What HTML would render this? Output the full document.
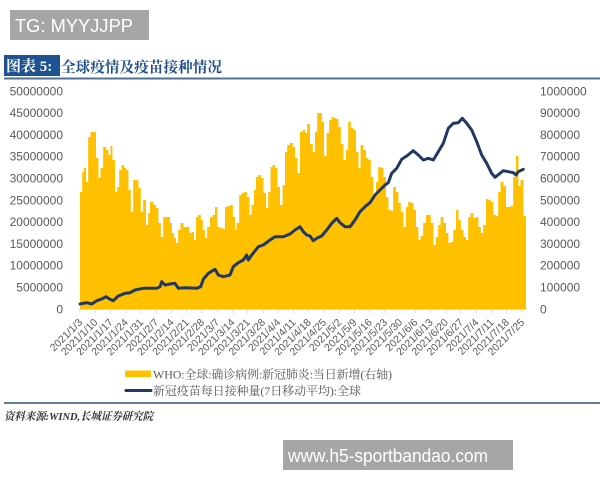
<!DOCTYPE html>
<html>
<head>
<meta charset="utf-8">
<style>
html,body{margin:0;padding:0;background:#fff;}
svg{display:block;}
</style>
</head>
<body>
<svg width="600" height="480" viewBox="0 0 600 480" xmlns="http://www.w3.org/2000/svg">
<defs>
<pattern id="sep" patternUnits="userSpaceOnUse" x="80" y="0" width="6.54" height="480">
<rect x="0" y="0" width="0.6" height="480" fill="#ffffff" fill-opacity="0.55"/>
</pattern>
</defs>
<rect width="600" height="480" fill="#fff"/>

<!-- top watermark -->
<rect x="10" y="10" width="139" height="30" fill="#a6a6a6"/>
<text x="15" y="32" font-family="Liberation Sans, sans-serif" font-size="18.5" fill="#fff" textLength="118" lengthAdjust="spacingAndGlyphs">TG: MYYJJPP</text>

<!-- title -->
<rect x="4" y="55" width="56" height="21" fill="#1f5291"/>
<text x="6" y="71" font-family="Liberation Serif, 'Noto Serif CJK SC', serif" font-size="15" font-weight="bold" fill="#fff">图表 5:</text>
<text x="61" y="72" font-family="Liberation Serif, 'Noto Serif CJK SC', serif" font-size="15" font-weight="bold" fill="#1f4e8c" textLength="161" lengthAdjust="spacingAndGlyphs">全球疫情及疫苗接种情况</text>
<line x1="4" y1="78.5" x2="600" y2="78.5" stroke="#4f7095" stroke-width="2"/>

<!-- bars -->
<path id="bars" fill="#FFC000" d="M80 309 V192 H82.3 V172 H84 V168 H86 V182 H88.3 V137 H90.7 V132 H93.3 V132 H96 V158 H98.3 V178 H100.7 V168 H103.3 V147 H106 V150 H108.3 V155 H110.7 V146 H112.3 V160 H115 V192 H117.3 V187 H119.3 V170 H121.7 V165 H124 V168 H126 V170 H128.3 V190 H130.7 V212 H133.3 V180 H136 V180 H138.3 V188 H140.7 V212 H143.3 V200 H146 V225 H148.3 V213 H150 V202 H153.3 V205 H156 V208 H158.3 V223 H160.7 V237 H163.3 V217 H166.7 V217 H170 V223 H171.7 V233 H174 V238 H176 V243 H178.3 V230 H180.7 V223 H183.3 V227 H186.7 V227 H189.3 V233 H191.7 V232 H194 V240 H196 V217 H198.3 V215 H200.7 V220 H202.7 V230 H205 V238 H207.3 V227 H210 V217 H212.7 V215 H215 V207 H217.3 V227 H220 V228 H222.7 V229 H225 V207 H227.3 V206 H230 V205 H232.7 V217 H235 V230 H236.7 V223 H239.3 V195 H241.7 V193 H244 V192 H246.7 V197 H249.3 V215 H251.7 V205 H254 V190 H256 V177 H258.3 V175 H260.7 V178 H263.3 V193 H266 V208 H268.3 V192 H270.7 V167 H272.7 V165 H275 V168 H277.3 V187 H280 V205 H282.7 V185 H285 V152 H287.3 V145 H290 V143 H292.7 V147 H295 V158 H297.3 V173 H300 V132 H302.7 V130 H305 V133 H307.3 V124 H310 V144 H312.7 V152 H315 V132 H317.3 V113 H319.3 V113 H321.7 V122 H324 V156 H326.7 V133 H329.3 V120 H331.7 V117 H334 V118 H336 V119 H338.3 V127 H340.7 V144 H343.3 V160 H346 V150 H348.3 V122 H350.7 V128 H353.3 V130 H356 V152 H358.3 V168 H360.7 V145 H363.3 V150 H366 V158 H368.3 V160 H370.7 V177 H373.3 V195 H376 V182 H378.3 V167 H380.7 V168 H383.3 V177 H386 V197 H388.3 V210 H390.7 V211 H393.3 V187 H396 V192 H398.3 V203 H400.7 V212 H403.3 V227 H406 V207 H408.3 V202 H410.7 V203 H413.3 V210 H416 V227 H418.3 V240 H420.7 V236 H423.3 V223 H426 V215 H428.3 V215 H430.7 V223 H433.3 V245 H436 V237 H438.3 V225 H440.7 V217 H443.3 V223 H446 V233 H448.3 V243 H450.7 V242 H453.3 V230 H456 V210 H458.3 V220 H460.7 V230 H463.3 V237 H466 V240 H468.3 V217 H470.7 V213 H473.3 V218 H476 V217 H478.3 V227 H480.7 V233 H483.3 V225 H486 V199 H488.3 V200 H490.7 V202 H493.3 V215 H496 V216 H498.3 V192 H500.7 V182 H503.3 V186 H506 V207 H508.3 V207 H510.7 V206 H513.3 V177 H516 V156 H518.3 V186 H520.7 V180 H523.3 V216 H526 V309 Z"/>
<use href="#bars" fill="url(#sep)"/>

<!-- x axis -->
<line x1="79" y1="309.5" x2="527" y2="309.5" stroke="#d9d9d9" stroke-width="1"/>
<g stroke="#d9d9d9" stroke-width="1">
<line x1="80" y1="309" x2="80" y2="313"/><line x1="95.24" y1="309" x2="95.24" y2="313"/><line x1="110.48" y1="309" x2="110.48" y2="313"/><line x1="125.72" y1="309" x2="125.72" y2="313"/><line x1="140.97" y1="309" x2="140.97" y2="313"/><line x1="156.21" y1="309" x2="156.21" y2="313"/><line x1="171.45" y1="309" x2="171.45" y2="313"/><line x1="186.69" y1="309" x2="186.69" y2="313"/><line x1="201.93" y1="309" x2="201.93" y2="313"/><line x1="217.17" y1="309" x2="217.17" y2="313"/><line x1="232.41" y1="309" x2="232.41" y2="313"/><line x1="247.66" y1="309" x2="247.66" y2="313"/><line x1="262.9" y1="309" x2="262.9" y2="313"/><line x1="278.14" y1="309" x2="278.14" y2="313"/><line x1="293.38" y1="309" x2="293.38" y2="313"/><line x1="308.62" y1="309" x2="308.62" y2="313"/><line x1="323.86" y1="309" x2="323.86" y2="313"/><line x1="339.1" y1="309" x2="339.1" y2="313"/><line x1="354.34" y1="309" x2="354.34" y2="313"/><line x1="369.59" y1="309" x2="369.59" y2="313"/><line x1="384.83" y1="309" x2="384.83" y2="313"/><line x1="400.07" y1="309" x2="400.07" y2="313"/><line x1="415.31" y1="309" x2="415.31" y2="313"/><line x1="430.55" y1="309" x2="430.55" y2="313"/><line x1="445.79" y1="309" x2="445.79" y2="313"/><line x1="461.03" y1="309" x2="461.03" y2="313"/><line x1="476.28" y1="309" x2="476.28" y2="313"/><line x1="491.52" y1="309" x2="491.52" y2="313"/><line x1="506.76" y1="309" x2="506.76" y2="313"/><line x1="522" y1="309" x2="522" y2="313"/>
</g>

<!-- line series -->
<path fill="none" stroke="#1f3864" stroke-width="3" stroke-linejoin="round" stroke-linecap="round" d="M80 304 L86.7 302.7 L91.7 304 L96.7 300.7 L101.7 299 L106 296.7 L110 299.3 L113.3 300.7 L118.3 296 L125 293.3 L130 292.7 L135 290 L143.3 288.3 L156.7 288.3 L160 286.7 L161.7 281.7 L165 285 L170 284 L175 283.3 L178.3 288.3 L185 287.7 L196.7 288.3 L200.7 286.7 L203.3 279.3 L208.3 273.3 L215 269.3 L218.3 275 L223.3 276.7 L230 275 L233.3 266.7 L238.3 262.7 L243.3 260 L246.7 255 L248.3 260 L251.7 255 L258.3 246.7 L263.3 245 L270 240 L275 236.7 L283.3 236.7 L290 234 L295 230 L300 226.7 L303.3 231.7 L306.7 235 L310 236 L313.3 240.7 L316.7 238.3 L321.7 236 L326.7 230 L331.7 223.3 L336.7 218.3 L340 222.7 L345 226.7 L350 226.7 L355 220 L360 211.7 L365 206.7 L370 202.7 L375 195 L380 190 L385 185 L388.3 182.7 L391.7 173.3 L396.7 168.3 L401.7 159.3 L406.7 156 L413.3 150.7 L418.3 155 L423.3 160 L428.3 158.3 L433.3 160 L438.3 151.7 L443.3 143.3 L448.3 128.3 L453.3 123.3 L458.3 122.7 L462.3 118.3 L466.7 123.3 L471.7 130 L476.7 141.7 L481.7 155 L486.7 163.3 L491.7 173.3 L495 177.3 L500 173.3 L503.3 170.7 L508.3 171.7 L513.3 172.7 L516 175 L518.3 171.7 L523.3 169.3"/>

<!-- left axis labels -->
<g font-family="Liberation Sans, sans-serif" font-size="12" fill="#595959" text-anchor="end">
<text x="63" y="95.3">50000000</text>
<text x="63" y="117.1">45000000</text>
<text x="63" y="138.9">40000000</text>
<text x="63" y="160.7">35000000</text>
<text x="63" y="182.5">30000000</text>
<text x="63" y="204.3">25000000</text>
<text x="63" y="226.1">20000000</text>
<text x="63" y="247.9">15000000</text>
<text x="63" y="269.7">10000000</text>
<text x="63" y="291.5">5000000</text>
<text x="63" y="313.3">0</text>
</g>
<!-- right axis labels -->
<g font-family="Liberation Sans, sans-serif" font-size="12" fill="#595959" text-anchor="start">
<text x="540" y="95.3">1000000</text>
<text x="540" y="117.1">900000</text>
<text x="540" y="138.9">800000</text>
<text x="540" y="160.7">700000</text>
<text x="540" y="182.5">600000</text>
<text x="540" y="204.3">500000</text>
<text x="540" y="226.1">400000</text>
<text x="540" y="247.9">300000</text>
<text x="540" y="269.7">200000</text>
<text x="540" y="291.5">100000</text>
<text x="540" y="313.3">0</text>
</g>

<!-- x labels -->
<g font-family="Liberation Sans, sans-serif" font-size="10.5" fill="#595959" text-anchor="end">
<text transform="translate(83,323) rotate(-45)">2021/1/3</text>
<text transform="translate(98.24,323) rotate(-45)">2021/1/10</text>
<text transform="translate(113.48,323) rotate(-45)">2021/1/17</text>
<text transform="translate(128.72,323) rotate(-45)">2021/1/24</text>
<text transform="translate(143.97,323) rotate(-45)">2021/1/31</text>
<text transform="translate(159.21,323) rotate(-45)">2021/2/7</text>
<text transform="translate(174.45,323) rotate(-45)">2021/2/14</text>
<text transform="translate(189.69,323) rotate(-45)">2021/2/21</text>
<text transform="translate(204.93,323) rotate(-45)">2021/2/28</text>
<text transform="translate(220.17,323) rotate(-45)">2021/3/7</text>
<text transform="translate(235.41,323) rotate(-45)">2021/3/14</text>
<text transform="translate(250.66,323) rotate(-45)">2021/3/21</text>
<text transform="translate(265.9,323) rotate(-45)">2021/3/28</text>
<text transform="translate(281.14,323) rotate(-45)">2021/4/4</text>
<text transform="translate(296.38,323) rotate(-45)">2021/4/11</text>
<text transform="translate(311.62,323) rotate(-45)">2021/4/18</text>
<text transform="translate(326.86,323) rotate(-45)">2021/4/25</text>
<text transform="translate(342.1,323) rotate(-45)">2021/5/2</text>
<text transform="translate(357.34,323) rotate(-45)">2021/5/9</text>
<text transform="translate(372.59,323) rotate(-45)">2021/5/16</text>
<text transform="translate(387.83,323) rotate(-45)">2021/5/23</text>
<text transform="translate(403.07,323) rotate(-45)">2021/5/30</text>
<text transform="translate(418.31,323) rotate(-45)">2021/6/6</text>
<text transform="translate(433.55,323) rotate(-45)">2021/6/13</text>
<text transform="translate(448.79,323) rotate(-45)">2021/6/20</text>
<text transform="translate(464.03,323) rotate(-45)">2021/6/27</text>
<text transform="translate(479.28,323) rotate(-45)">2021/7/4</text>
<text transform="translate(494.52,323) rotate(-45)">2021/7/11</text>
<text transform="translate(509.76,323) rotate(-45)">2021/7/18</text>
<text transform="translate(525,323) rotate(-45)">2021/7/25</text>
</g>

<!-- legend -->
<rect x="125" y="370.5" width="26" height="6.5" fill="#FFC000"/>
<text x="153" y="378.5" font-family="Liberation Serif, 'Noto Serif CJK SC', serif" font-size="12" fill="#595959" textLength="239" lengthAdjust="spacing">WHO:全球:确诊病例:新冠肺炎:当日新增(右轴)</text>
<line x1="126" y1="390.5" x2="151" y2="390.5" stroke="#1f3864" stroke-width="3" stroke-linecap="round"/>
<text x="153" y="395" font-family="Liberation Serif, 'Noto Serif CJK SC', serif" font-size="12" fill="#595959" textLength="208" lengthAdjust="spacing">新冠疫苗每日接种量(7日移动平均):全球</text>

<!-- bottom rule & source -->
<line x1="4" y1="403" x2="600" y2="403" stroke="#2f5080" stroke-width="1.5"/>
<text x="4" y="420" font-family="Liberation Serif, 'Noto Serif CJK SC', serif" font-size="11" font-style="italic" font-weight="bold" fill="#333" textLength="149" lengthAdjust="spacingAndGlyphs">资料来源:WIND,长城证券研究院</text>

<!-- bottom watermark -->
<rect x="283" y="440" width="230" height="30" fill="#a6a6a6"/>
<text x="288" y="462" font-family="Liberation Sans, sans-serif" font-size="18.5" fill="#fff" textLength="200" lengthAdjust="spacingAndGlyphs">www.h5-sportbandao.com</text>
</svg>
</body>
</html>
